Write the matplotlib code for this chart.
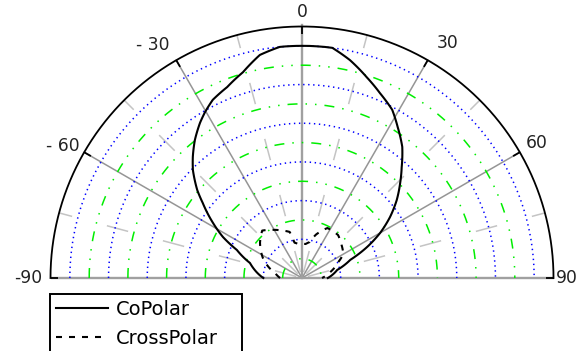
import numpy as np
import matplotlib
matplotlib.use("Agg")
import matplotlib.pyplot as plt

plt.rcParams['font.family'] = ['DejaVu Sans']
plt.rcParams['lines.scale_dashes'] = False

# Radiation pattern (angle in degrees, level in dB)
co_theta = [-90, -73.9, -66.7, -62.6, -58.3, -52.9, -50.0, -45.3, -42.0, -37.8,
            -33.3, -30.3, -26.6, -21.4, -16.0, -10.7, -5.5, 0, 7.5, 12.4, 17.9,
            22.9, 28.2, 32.4, 37.4, 42.0, 45.9, 50.6, 55.3, 60.0, 64.5, 69.4,
            77.1, 90]
co_db = [-33.0, -30.6, -28.0, -25.2, -22.8, -19.7, -17.8, -15.2, -13.7, -11.9,
         -10.2, -9.2, -8.1, -7.2, -5.8, -3.8, -3.0, -3.0, -3.0, -4.4, -6.3, -7.9,
         -9.4, -11.3, -13.4, -15.9, -17.8, -20.0, -22.4, -25.0, -27.8, -31.0,
         -33.4, -35.0]

cross_theta = [-90, -80, -63, -50, -40, -32, -23, -15, -12, -6, 0, 6, 12, 18,
               27, 40, 50, 60, 66, 78, 90]
cross_db = [-35.6, -34.8, -32.2, -30.5, -29.4, -30.2, -31.0, -31.6, -33.4, -33.7,
            -33.7, -33.7, -33.3, -31.9, -30.3, -30.3, -31.0, -31.6, -32.8, -34.5,
            -35.9]

series_labels = ["CoPolar", "CrossPolar"]
angle_ticks = [-90, -60, -30, 0, 30, 60, 90]
angle_labels = ["-90", "- 60", "- 30", "0", "30", "60", "90"]

R_MIN, R_MAX = -39.0, 0.0
RING_STEP = 3.0

W, H = 579, 351
CX, CY, RPX = 302, 278, 251.5   # centre and radius in pixels (from top-left)
PT = 0.72                        # points per pixel at 100 dpi


def px_to_db(px):
    return R_MIN + px * (R_MAX - R_MIN) / RPX


def polar_smooth(line, steps=24):
    # let the polar transform bend each segment along the angle
    line._path._interpolation_steps = steps
    line.recache_always()


fig = plt.figure(figsize=(W / 100, H / 100), dpi=100)
ax = fig.add_axes([(CX - RPX) / W, (H - CY - RPX) / H, 2 * RPX / W, 2 * RPX / H],
                  projection='polar')
ax.set_theta_zero_location('N')
ax.set_theta_direction(-1)
ax.set_rlim(R_MIN, R_MAX)
ax.set_thetalim(-np.pi, np.pi)
ax.axis('off')

arc = np.radians(np.linspace(-90, 90, 721))

# concentric rings: alternating blue dotted / green dash-dot
ring_values = np.arange(R_MIN + RING_STEP, R_MAX, RING_STEP)
for k, rv in enumerate(ring_values, start=1):
    if k % 2 == 0:
        ax.plot(arc, np.full_like(arc, rv), color='#0000ff', lw=1.1,
                linestyle=(0, (1.4 * PT, 3.6 * PT)),
                dash_capstyle='butt', clip_on=False, zorder=2)
    else:
        ax.plot(arc, np.full_like(arc, rv), color='#00ee00', lw=1.1,
                linestyle=(0, (10 * PT, 8 * PT, 1.5 * PT, 8 * PT, 1.5 * PT, 8 * PT)),
                dash_capstyle='butt', clip_on=False, zorder=2)

# light dashed spokes every 30 degrees, offset by 15
for a in [-75, -45, -15, 15, 45, 75]:
    t = np.radians(a)
    ax.plot([t, t], [R_MIN, R_MAX], color='#c4c4c4', lw=1.1,
            linestyle=(52 * PT, (22 * PT, 36 * PT)), dash_capstyle='butt',
            clip_on=False, zorder=1)

# solid spokes
for a in [-60, -30, 30, 60]:
    t = np.radians(a)
    ax.plot([t, t], [R_MIN, R_MAX], color='#959595', lw=1.1, clip_on=False,
            zorder=1.5)
ax.plot([0, 0], [R_MIN, R_MAX + 0.2], color='#a0a0a0', lw=1.7, clip_on=False,
        zorder=1.5)
for a in [-90, 90]:
    t = np.radians(a)
    ax.plot([t, t], [R_MIN, R_MAX], color='#a0a0a0', lw=1.7, clip_on=False,
            zorder=1.5, solid_capstyle='butt')

# outer boundary and tick marks
ax.plot(arc, np.full_like(arc, R_MAX), color='black', lw=1.3, clip_on=False,
        zorder=4)
for a in angle_ticks:
    t = np.radians(a)
    ax.plot([t, t], [R_MAX, R_MAX - 1.2], color='black', lw=1.3, clip_on=False,
            zorder=4, solid_capstyle='butt')

# pattern curves
co_line, = ax.plot(np.radians(co_theta), co_db, color='black', lw=1.5,
                   clip_on=False, zorder=5)
cross_line, = ax.plot(np.radians(cross_theta), cross_db, color='black', lw=1.5,
                      linestyle=(0, (6 * PT, 7 * PT)), dash_capstyle='butt',
                      clip_on=False, zorder=5)
polar_smooth(co_line)
polar_smooth(cross_line)

# angle labels
label_pos = {"-90": (-90, 274), "- 60": (-61, 273), "- 30": (-32.7, 277),
             "0": (0, 266), "30": (31.8, 277), "60": (60, 271), "90": (90, 265)}
for txt in angle_labels:
    a, rp = label_pos[txt]
    ax.text(np.radians(a), px_to_db(rp), txt, ha='center', va='center',
            fontsize=12.3, color='#222222', clip_on=False)

leg = fig.legend([co_line, cross_line], series_labels, loc='upper left',
                 bbox_to_anchor=(50 / W, (H - 352) / H, 192 / W, 58 / H),
                 bbox_transform=fig.transFigure, mode='expand',
                 borderaxespad=0, fontsize=14, handlelength=2.68,
                 handletextpad=0.41, borderpad=0.3, labelspacing=0.5,
                 fancybox=False, framealpha=1)
leg.get_frame().set_edgecolor('black')
leg.get_frame().set_linewidth(1.4)

fig.savefig("out.png", dpi=100)
